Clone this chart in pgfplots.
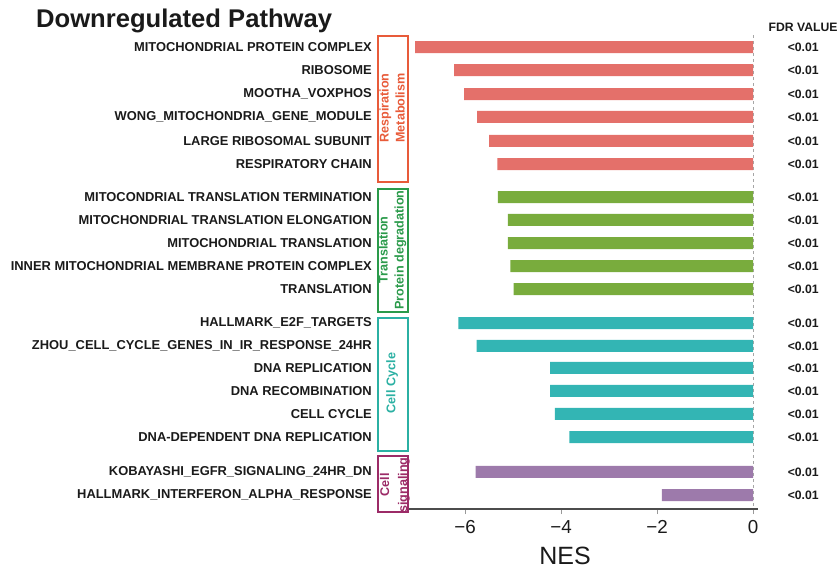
\documentclass[border=0pt]{standalone}
\usepackage{pgfplots}
\pgfplotsset{compat=1.18}
\usepackage{fontspec}
\setmainfont{Liberation Sans}
\definecolor{cResp}{HTML}{E4706A}
\definecolor{cTrans}{HTML}{79AC3D}
\definecolor{cCyc}{HTML}{33B5B4}
\definecolor{cSig}{HTML}{9D7AAB}
\definecolor{bResp}{HTML}{E85B3A}
\definecolor{bTrans}{HTML}{2A9A4A}
\definecolor{bCyc}{HTML}{2BB0A3}
\definecolor{bSig}{HTML}{9C2B67}
\definecolor{txt}{HTML}{1A1A1A}
\begin{document}
\begin{tikzpicture}
\begin{axis}[
  at={(0,0)}, anchor=south west,
  scale only axis, width=349pt, height=474pt,
  xmin=-7.17, xmax=0.1,
  ymin=-0.52, ymax=19.83, y dir=reverse,
  clip=false,
  axis x line*=bottom, axis y line*=left,
  x axis line style={-, draw=black!70, line width=1.3pt},
  y axis line style={draw=none},
  xtick={-6,-4,-2,0},
  xticklabels={−6,−4,−2,0},
  xtick style={draw=black!40, line width=0.8pt},
  tick align=outside, major tick length=5pt,
  xticklabel style={font=\fontsize{18.8}{20}\selectfont, text=txt, yshift=-3pt},
  ytick={0,0.99,2.02,3.0,4.03,5.02,6.44,7.42,8.41,9.4,10.39,11.85,12.83,13.77,14.76,15.75,16.74,18.24,19.23},
  yticklabels={MITOCHONDRIAL PROTEIN COMPLEX, RIBOSOME, MOOTHA\_VOXPHOS, WONG\_MITOCHONDRIA\_GENE\_MODULE, LARGE RIBOSOMAL SUBUNIT, RESPIRATORY CHAIN,
    MITOCONDRIAL TRANSLATION TERMINATION, MITOCHONDRIAL TRANSLATION ELONGATION, MITOCHONDRIAL TRANSLATION, INNER MITOCHONDRIAL MEMBRANE PROTEIN COMPLEX, TRANSLATION,
    HALLMARK\_E2F\_TARGETS, ZHOU\_CELL\_CYCLE\_GENES\_IN\_IR\_RESPONSE\_24HR, DNA REPLICATION, DNA RECOMBINATION, CELL CYCLE, DNA-DEPENDENT DNA REPLICATION,
    KOBAYASHI\_EGFR\_SIGNALING\_24HR\_DN, HALLMARK\_INTERFERON\_ALPHA\_RESPONSE},
  ytick style={draw=none},
  yticklabel style={font=\bfseries\fontsize{12.9}{14}\selectfont, text=txt, anchor=east, inner sep=0pt, xshift=-32pt},
  xbar, bar width=12pt,
]
\draw[dashed, draw=black!35, line width=0.8pt] (axis cs:0,-0.52) -- (axis cs:0,19.83);
\addplot[xbar, bar shift=0pt, fill=cResp, draw=none] coordinates {(-7.04,0) (-6.23,0.99) (-6.02,2.02) (-5.75,3.0) (-5.50,4.03) (-5.33,5.02)};
\addplot[xbar, bar shift=0pt, fill=cTrans, draw=none] coordinates {(-5.32,6.44) (-5.11,7.42) (-5.11,8.41) (-5.06,9.4) (-4.99,10.39)};
\addplot[xbar, bar shift=0pt, fill=cCyc, draw=none] coordinates {(-6.14,11.85) (-5.76,12.83) (-4.23,13.77) (-4.23,14.76) (-4.13,15.75) (-3.83,16.74)};
\addplot[xbar, bar shift=0pt, fill=cSig, draw=none] coordinates {(-5.78,18.24) (-1.90,19.23)};
\pgfplotsinvokeforeach{0,0.99,2.02,3.0,4.03,5.02,6.44,7.42,8.41,9.4,10.39,11.85,12.83,13.77,14.76,15.75,16.74,18.24,19.23}{
  \node[font=\bfseries\fontsize{12.2}{14}\selectfont, text=txt] at (axis cs:0,#1) [xshift=50pt] {<0.01};
}
\end{axis}
\begin{scope}[x=1pt,y=-1pt,shift={(-409pt,509pt)}]
  \draw[bResp, line width=2pt] (378,36) rectangle (408,182);
  \draw[bTrans, line width=2pt] (378,189) rectangle (408,312);
  \draw[bCyc, line width=2pt] (378,318) rectangle (408,451);
  \draw[bSig, line width=2pt] (378,456) rectangle (408,512);
  \node[rotate=90, align=center, text=bResp, font=\bfseries\fontsize{12.6}{16}\selectfont, inner sep=0pt] at (392,108) {Respiration\\Metabolism};
  \node[rotate=90, align=center, text=bTrans, font=\bfseries\fontsize{12.6}{16}\selectfont, inner sep=0pt] at (392.5,250) {Translation\\Protein degradation};
  \node[rotate=90, align=center, text=bCyc, font=\bfseries\fontsize{12.6}{16}\selectfont, inner sep=0pt] at (392,383) {Cell Cycle};
  \node[rotate=90, align=center, text=bSig, font=\bfseries\fontsize{12.6}{18}\selectfont, inner sep=0pt] at (395,485) {Cell\\signaling};
  \node[anchor=west, font=\bfseries\fontsize{25.6}{30}\selectfont, text=txt, inner sep=0pt] at (36,21) {Downregulated Pathway};
  \node[font=\bfseries\fontsize{12.2}{14}\selectfont, text=txt] at (803,27) {FDR VALUE};
  \node[font=\fontsize{25}{28}\selectfont, text=txt] at (565,556) {NES};
  \pgfresetboundingbox
  \path[use as bounding box] (0,0) rectangle (840,571);
\end{scope}
\end{tikzpicture}
\end{document}
